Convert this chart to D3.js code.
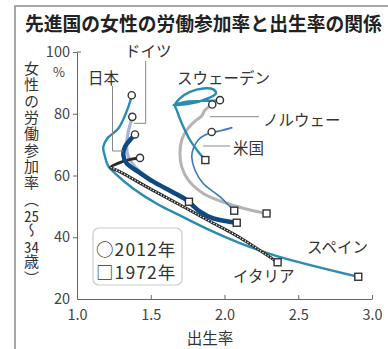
<!DOCTYPE html>
<html><head><meta charset="utf-8">
<script src="https://cdn.jsdelivr.net/npm/d3@7"></script>
<style>
html,body{margin:0;padding:0;background:#fff;}
svg{display:block;font-family:"Noto Sans CJK JP","Noto Sans",sans-serif;}
.vlabel{writing-mode:vertical-rl;font-family:"Noto Sans CJK JP",sans-serif;font-size:15px;letter-spacing:1.3px;line-height:20px;color:#333;margin:0;padding:0;white-space:nowrap;}
.tcy{text-combine-upright:all;}
</style></head>
<body>
<svg id="chart" width="388" height="349"></svg>
<script>
// ---- data ----
const title = "先進国の女性の労働参加率と出生率の関係";
const xTicks = [1.0, 1.5, 2.0, 2.5, 3.0];
const yTicks = [20, 40, 60, 80, 100];
const xLabel = "出生率";
const yLabelParts = ["女性の労働参加率（", "25", "～", "34", "歳）"];
const legendLabels = ["○2012年", "□1972年"];

// each series: [fertility rate, participation %], ordered from 2012 (first) to 1972 (last)
const spain   = [[1.371,86.0],[1.348,82.2],[1.28,75.2],[1.205,72.0],[1.178,69.3],[1.19,66.1],[1.21,63.2],[1.26,60.6],[1.38,55.8],[1.55,50.6],[1.70,47.0],[1.90,42.3],[2.10,38.2],[2.35,34.0],[2.907,27.2]];
const germany = [[1.375,79.0],[1.348,74.2],[1.337,70.4],[1.345,66.5],[1.40,62.5],[1.55,57.2],[1.759,51.5]];
const japan   = [[1.393,73.3],[1.359,71.5],[1.325,69.3],[1.314,66.6],[1.337,63.9],[1.416,61.2],[1.517,58.0],[1.65,54.6],[1.744,52.0],[1.834,48.3],[1.924,46.1],[2.015,45.2],[2.083,44.7]];
const italy   = [[1.427,65.7],[1.37,65.3],[1.29,64.2],[1.228,62.6],[1.28,61.5],[1.50,55.6],[1.74,49.4],[1.90,45.2],[2.10,40.0],[2.36,31.9]];
const sweden  = [[1.969,84.4],[1.924,84.2],[1.856,84.2],[1.744,83.9],[1.653,82.8],[1.766,83.3],[1.856,84.4],[1.942,86.6],[1.924,87.9],[1.856,88.2],[1.766,87.1],[1.698,85.0],[1.664,82.8],[1.676,81.2],[1.71,76.9],[1.766,71.5],[1.822,67.7],[1.870,65.0]];
const norway  = [[1.917,83.0],[1.868,81.2],[1.845,79.3],[1.80,77.6],[1.744,74.7],[1.71,71.5],[1.698,67.2],[1.71,62.8],[1.755,58.5],[1.856,54.2],[2.015,51.0],[2.173,48.8],[2.285,47.7]];
const usa     = [[1.913,74.1],[1.98,74.6],[2.05,75.5],[1.96,74.3],[1.868,73.1],[1.822,71.5],[1.789,68.8],[1.778,66.1],[1.80,61.7],[1.856,57.4],[1.97,53.1],[2.066,48.6]];

const countries = [
  {name:"ノルウェー", pts:norway,  color:"#b4b4b4", width:3},
  {name:"米国",       pts:usa,     color:"#3a78b8", width:1.6},
  {name:"スウェーデン", pts:sweden, color:"#2a8bb3", width:2.4},
  {name:"ドイツ",     pts:germany, color:"#aab4d6", width:3.2},
  {name:"スペイン",   pts:spain,   color:"#2a8bb3", width:2.4},
  {name:"イタリア",   pts:italy,   color:"#2a2a2a", width:3, dotted:true},
  {name:"日本",       pts:japan,   color:"#0e4a82", width:4.5}
];

// ---- drawing ----
const svg = d3.select("#chart");
const x = d3.scaleLinear().domain([1,3]).range([77,372]);
const y = d3.scaleLinear().domain([20,100]).range([299,52]);

// frame
svg.append("path").attr("d","M15,349V6H388").attr("fill","none").attr("stroke","#8a8a8a").attr("stroke-width",1.5);

// title
svg.append("text").attr("x",25).attr("y",31).attr("font-size",18.8).attr("font-weight","bold")
  .attr("fill","#222").text(title);

// axes
const yAxis = d3.axisLeft(y).tickValues(yTicks).tickSize(4).tickSizeOuter(0).tickPadding(3).tickFormat(d3.format("d"));
const gy = svg.append("g").attr("transform","translate(77,0)").call(yAxis);
const xAxis = d3.axisBottom(x).tickValues(xTicks).tickSize(-4).tickSizeOuter(0).tickPadding(11).tickFormat(d3.format(".1f"));
const gx = svg.append("g").attr("transform","translate(0,299)").call(xAxis);
[gx,gy].forEach(g=>{
  g.select(".domain").attr("stroke","#666");
  g.selectAll(".tick line").attr("stroke","#666");
  g.selectAll(".tick text").attr("fill","#444").attr("font-size",14.5)
   .attr("font-family",'"Noto Sans CJK JP",sans-serif');
});
gy.selectAll(".tick").filter(d=>d===20).select("line").remove();
gx.selectAll(".tick").filter(d=>d===1).select("line").remove();
svg.append("line").attr("x1",77).attr("x2",81).attr("y1",y(100)).attr("y2",y(100)).attr("stroke","#666");
svg.append("text").attr("x",59).attr("y",77).attr("text-anchor","middle").attr("font-size",13).attr("fill","#444").text("%");

// x label
svg.append("text").attr("x",210).attr("y",344).attr("text-anchor","middle").attr("font-size",15.5).attr("fill","#333").text(xLabel);

// y label (vertical writing)
const fo = svg.append("foreignObject").attr("x",21).attr("y",61).attr("width",21).attr("height",240);
const div = fo.append("xhtml:div").attr("class","vlabel");
yLabelParts.forEach((p,i)=>{
  if (/^\d+$/.test(p)) div.append("xhtml:span").attr("class","tcy").text(p);
  else div.append("xhtml:span").text(p);
});

// lines
const line = d3.line().x(d=>x(d[0])).y(d=>y(d[1])).curve(d3.curveCatmullRom.alpha(0.5));
countries.forEach(c=>{
  svg.append("path").attr("d",line(c.pts)).attr("fill","none").attr("stroke",c.color)
    .attr("stroke-width",c.width).attr("stroke-linecap","round").attr("stroke-linejoin","round");
  if (c.dotted) {
    svg.append("path").attr("d",line(c.pts.slice(3))).attr("fill","none").attr("stroke","#fff")
      .attr("stroke-width",1.2).attr("stroke-dasharray","1.3,1.7");
  }
});

// markers
countries.forEach(c=>{
  const s = c.pts[0], e = c.pts[c.pts.length-1];
  svg.append("circle").attr("cx",x(s[0])).attr("cy",y(s[1])).attr("r",3.6)
    .attr("fill","#fff").attr("stroke","#333").attr("stroke-width",1.4);
  svg.append("rect").attr("x",x(e[0])-3.5).attr("y",y(e[1])-3.5).attr("width",7).attr("height",7)
    .attr("fill","#fff").attr("stroke","#333").attr("stroke-width",1.4);
});

// label leaders
const lead = "#888";
svg.append("path").attr("d","M112.5,86V151H123").attr("fill","none").attr("stroke",lead).attr("stroke-width",1);
svg.append("path").attr("d","M145.7,61V123.3H134").attr("fill","none").attr("stroke",lead).attr("stroke-width",1);
svg.append("line").attr("x1",210).attr("x2",259).attr("y1",116.7).attr("y2",116.7).attr("stroke",lead);
svg.append("line").attr("x1",203).attr("x2",230).attr("y1",146).attr("y2",146).attr("stroke",lead);

// country labels
const labelPos = {
  "日本":[88,84], "ドイツ":[125,57], "スウェーデン":[177,84], "ノルウェー":[263,126],
  "米国":[233,154], "スペイン":[307,253], "イタリア":[233,282]
};
Object.entries(labelPos).forEach(([n,p])=>{
  svg.append("text").attr("x",p[0]).attr("y",p[1]).attr("font-size",15.5).attr("fill","#333").text(n);
});

// legend
svg.append("rect").attr("x",93).attr("y",228).attr("width",89).attr("height",57).attr("rx",6)
  .attr("fill","#fff").attr("stroke","#ccc").attr("stroke-width",1.2);
legendLabels.forEach((l,i)=>{
  svg.append("text").attr("x",96).attr("y",256+i*23).attr("font-size",17.5).attr("fill","#333")
    .attr("letter-spacing",1.1).text(l);
});
</script>
</body></html>
